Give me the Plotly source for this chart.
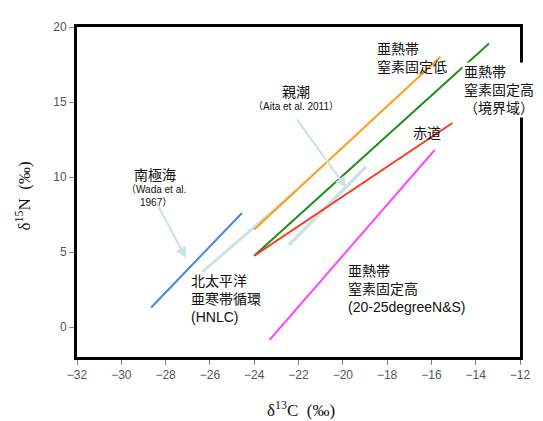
import plotly.graph_objects as go

# ---- data ----
blue_x = [-28.65, -24.55]
blue_y = [1.3, 7.6]
pale1_x = [-26.34, -22.1]
pale1_y = [3.67, 9.1]
pale2_x = [-22.44, -18.95]
pale2_y = [5.47, 10.68]
orange_x = [-24.0, -15.6]
orange_y = [6.5, 18.0]
green_x = [-24.0, -13.4]
green_y = [4.75, 18.9]
red_x = [-24.0, -15.05]
red_y = [4.75, 13.6]
magenta_x = [-23.3, -15.85]
magenta_y = [-0.85, 11.8]

x_ticks = [-32, -30, -28, -26, -24, -22, -20, -18, -16, -14, -12]
y_ticks = [0, 5, 10, 15, 20]

# page offset (browser body margin) -> figure is drawn at (8, 8)
OFF = 8
PW, PH = 543, 421
W, H = PW - OFF, PH - OFF
# plot area in page pixels
L, R, T, B = 77, 528, 20, 357
XR = [-32, -12]
YR = [-2, 20]


def dx(px):
    return XR[0] + (px - L) / (R - L) * (XR[1] - XR[0])


def dy(py):
    return YR[0] + (B - py) / (B - T) * (YR[1] - YR[0])


def paper_x(px):
    return (px - L) / (R - L)


def paper_y(py):
    return (B - py) / (B - T)


PALE = "#cde2e3"
JP = "Liberation Sans, Noto Sans CJK JP, sans-serif"
SERIF = "Liberation Serif, DejaVu Serif, serif"

fig = go.Figure()

for xs, ys, col, w in [
    (pale1_x, pale1_y, PALE, 3),
    (pale2_x, pale2_y, PALE, 3.5),
    (blue_x, blue_y, "#4a80f5", 2),
    (orange_x, orange_y, "#ff9c1c", 2),
    (green_x, green_y, "#1f8f1f", 2),
    (red_x, red_y, "#ff361c", 2),
    (magenta_x, magenta_y, "#ff45ff", 2),
]:
    fig.add_trace(go.Scatter(x=xs, y=ys, mode="lines",
                             line=dict(color=col, width=w),
                             showlegend=False, hoverinfo="skip"))

ann = []


def txt(px, py, text, size=14, xanchor="center", bg=None):
    d = dict(x=dx(px), y=dy(py), xref="x", yref="y", text=text,
             showarrow=False, xanchor=xanchor, yanchor="middle",
             align="left" if xanchor == "left" else "center",
             font=dict(family=JP, size=size, color="#111"))
    if bg:
        d["bgcolor"] = bg
        d["borderpad"] = 1
    ann.append(d)


txt(156, 171, "南極海", 14)
txt(157, 193, "（Wada et al.<br>1967）", 10)
txt(300, 86, "親潮", 14)
txt(300, 101, "（Aita et al. 2011）", 10)
txt(380, 52, "亜熱帯<br>窒素固定低", 14, "left")
txt(469, 84, "亜熱帯<br>窒素固定高<br>（境界域）", 14, "left", bg="white")
txt(433, 128, "赤道", 14)
txt(191, 298, "北太平洋<br>亜寒帯循環<br>(HNLC)", 14, "left")
txt(351, 288, "亜熱帯<br>窒素固定高<br>(20-25degreeN&S)", 14, "left")

# pale arrows
for (tx, ty, hx, hy) in [(157, 198, 188, 256), (300, 113, 351, 184)]:
    ann.append(dict(x=dx(hx), y=dy(hy), xref="x", yref="y",
                    ax=dx(tx), ay=dy(ty), axref="x", ayref="y",
                    showarrow=True, arrowhead=2, arrowsize=1,
                    arrowwidth=2.2, arrowcolor=PALE, text=""))

# axis titles
ann.append(dict(x=paper_x(305), y=paper_y(410), xref="paper", yref="paper",
                text="δ<sup>13</sup>C  (‰)", showarrow=False,
                xanchor="center", yanchor="middle",
                font=dict(family=SERIF, size=17, color="#111")))
ann.append(dict(x=paper_x(22), y=paper_y(192), xref="paper", yref="paper",
                text="δ<sup>15</sup>N  (‰)", showarrow=False, textangle=-90,
                xanchor="center", yanchor="middle",
                font=dict(family=SERIF, size=17, color="#111")))

axis_common = dict(showline=True, linewidth=3, linecolor="black", mirror=True,
                   showgrid=False, zeroline=False, ticks="outside", ticklen=5,
                   tickwidth=1, tickcolor="#888",
                   tickfont=dict(family="Liberation Sans, Arial, sans-serif",
                                 size=12, color="#555"))

fig.update_layout(
    width=W, height=H,
    margin=dict(l=L - OFF, r=PW - R, t=T - OFF, b=PH - B),
    paper_bgcolor="white", plot_bgcolor="white",
    xaxis=dict(range=XR, tickvals=x_ticks, **axis_common),
    yaxis=dict(range=YR, tickvals=y_ticks, **axis_common),
    annotations=ann,
)

fig.write_html("out.html")
